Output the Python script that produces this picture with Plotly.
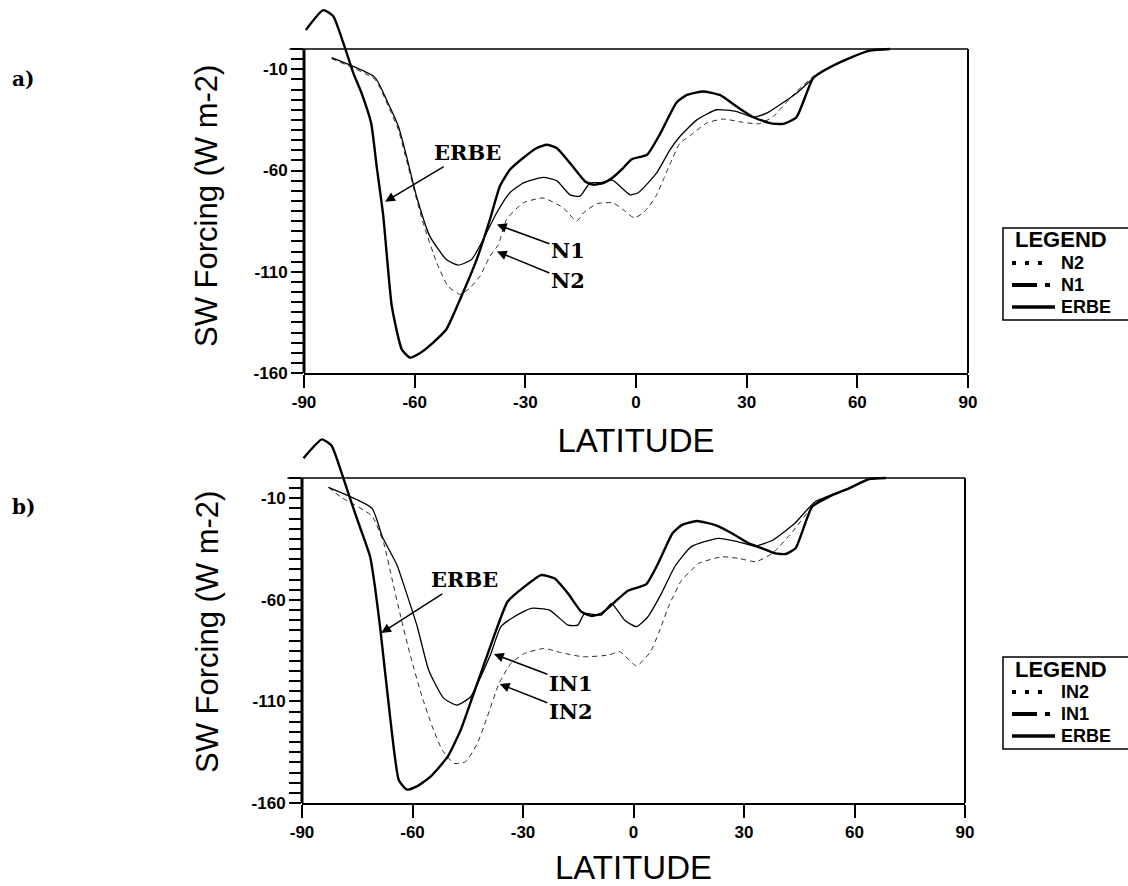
import plotly.graph_objects as go

# ---------------- data ----------------
# Panel a
lat_erbe_a = [-89.5, -84.8, -82.1, -79.3, -76.6, -74.4, -71.8, -70.3, -68.5, -66.2, -63.5, -61.3,
              -58.4, -55.0, -51.4, -47.3, -43.2, -39.6, -36.9, -34.2, -30.6, -26.9, -24.2, -21.5,
              -17.9, -13.8, -11.6, -8.9, -6.2, -3.5, -1.2, 3.0, 6.5, 11.0, 13.8, 18.2, 22.7, 27.3,
              31.8, 36.3, 39.9, 43.5, 48.0, 51.6, 57.1, 63.4, 68.8]
erbe_a = [9.4, 19.2, 16.3, 2.8, -12.0, -21.8, -36.6, -58.0, -82.6, -127.0, -148.3, -152.4,
          -150.0, -145.0, -138.4, -122.0, -104.0, -84.2, -67.8, -59.6, -53.8, -48.9, -47.3, -48.9,
          -56.3, -65.4, -67.0, -66.2, -63.3, -58.8, -54.5, -52.2, -42.0, -26.4, -22.7, -21.0, -22.7, -28.4,
          -33.7, -36.6, -37.0, -33.7, -14.4, -10.0, -5.1, -0.8, 0.0]

lat_n1 = [-82.5, -70.8, -67.2, -64.4, -62.2, -59.5, -55.9, -51.4, -48.2, -44.6, -41.4, -37.8,
          -34.2, -30.6, -25.1, -21.5, -17.9, -15.2, -12.5, -9.5, -6.4, -1.6, 0.6, 5.6, 9.2, 11.9,
          16.5, 21.8, 27.3, 31.8, 35.4, 43.5, 49.8, 57.1, 63.4, 68.8]
n1 = [-4.3, -14.0, -26.8, -38.3, -53.0, -72.7, -92.4, -104.0, -106.7, -104.0, -94.0, -81.0,
      -71.0, -66.2, -63.4, -65.0, -72.0, -72.7, -66.2, -66.0, -64.8, -72.0, -71.0, -61.2, -49.8, -43.2,
      -35.0, -30.0, -30.9, -33.7, -31.7, -21.8, -11.7, -5.1, -0.8, 0.0]

lat_n2 = [-82.5, -70.8, -67.2, -64.4, -62.2, -59.8, -57.7, -54.0, -51.0, -47.7, -45.0, -42.3,
          -39.6, -37.3, -35.1, -30.6, -25.1, -19.7, -16.1, -14.3, -10.6, -6.2, -3.5, -0.5, 2.2,
          5.3, 7.8, 9.4, 11.9, 14.6, 19.1, 23.6, 29.0, 33.5, 37.2, 42.6, 48.0, 51.6, 57.1, 63.4, 68.8]
n2 = [-4.8, -15.0, -28.0, -40.0, -55.0, -72.0, -85.9, -105.6, -117.0, -121.2, -117.9, -112.2,
      -102.3, -96.6, -84.2, -76.0, -73.6, -78.5, -85.0, -81.0, -76.4, -76.0, -79.3, -83.4, -80.5,
      -73.0, -62.9, -56.0, -46.5, -42.9, -36.6, -34.6, -36.2, -36.9, -33.3, -22.7, -13.6, -10.0, -5.1, -0.8, 0.0]

# Panel b
lat_erbe_b = [-89.6, -84.6, -82.0, -79.2, -76.5, -74.3, -71.5, -70.2, -68.7, -66.0, -63.7, -61.5,
              -58.7, -55.1, -50.5, -46.9, -43.7, -40.5, -37.3, -34.2, -29.6, -25.1, -21.5, -17.8,
              -14.2, -11.5, -8.7, -5.5, -1.4, 3.4, 6.7, 10.6, 13.1, 17.2, 22.2, 26.7, 31.3, 34.9,
              38.5, 41.3, 44.0, 48.5, 53.1, 58.5, 64.0, 68.5]
erbe_b = [9.7, 19.0, 16.0, 2.3, -12.5, -24.0, -38.8, -53.5, -74.9, -119.0, -148.8, -153.4,
          -151.7, -147.0, -137.3, -124.0, -107.7, -91.3, -75.0, -60.9, -53.5, -47.8, -49.4, -56.8,
          -65.8, -67.9, -66.7, -61.7, -55.4, -52.4, -42.0, -27.2, -23.2, -21.2, -23.2, -27.2, -32.2, -34.6,
          -37.1, -37.4, -34.6, -14.1, -9.2, -5.1, -0.5, 0.0]

lat_in1 = [-82.8, -71.0, -68.2, -64.2, -61.9, -58.7, -55.6, -51.5, -47.9, -44.2, -41.5, -38.7,
           -36.0, -32.4, -27.8, -22.8, -17.8, -15.1, -13.3, -8.7, -6.0, -2.4, 0.8, 3.9, 7.6, 11.2,
           15.7, 23.0, 28.4, 33.0, 37.9, 43.8, 49.3, 58.5, 64.0, 68.5]
in1 = [-4.6, -14.9, -28.9, -42.9, -55.2, -73.2, -94.6, -108.5, -111.8, -107.7, -97.9, -86.4,
       -73.2, -68.3, -64.2, -65.0, -72.4, -72.4, -66.7, -67.5, -61.7, -70.0, -73.2, -68.3, -56.8, -43.7,
       -33.8, -29.7, -31.4, -33.5, -30.5, -22.3, -11.7, -5.1, -0.5, 0.0]

lat_in2 = [-82.8, -79.6, -71.0, -67.8, -65.5, -63.2, -60.5, -57.4, -54.6, -51.9, -48.7, -45.6,
           -42.4, -39.7, -36.5, -33.3, -29.6, -24.2, -19.6, -13.7, -6.9, -3.7, 0.8, 4.6, 6.9, 9.7,
           13.1, 15.8, 17.7, 24.1, 28.6, 33.2, 37.7, 43.2, 48.6, 53.1, 58.5, 64.0, 68.5]
in2 = [-4.6, -9.2, -18.7, -32.2, -50.2, -68.3, -88.0, -107.7, -122.5, -134.0, -140.5, -139.7,
       -130.7, -117.6, -101.1, -91.3, -86.4, -83.9, -86.0, -88.0, -87.2, -85.5, -92.5, -85.6, -76.0, -62.5,
       -50.2, -45.3, -42.0, -38.8, -39.6, -41.2, -37.1, -26.4, -14.1, -9.2, -5.1, -0.5, 0.0]

x_tickvals = [-90, -60, -30, 0, 30, 60, 90]
x_ticktext = ["-90", "-60", "-30", "0", "30", "60", "90"]
y_labelled = {-10: "-10", -60: "-60", -110: "-110", -160: "-160"}
y_tickvals = list(range(0, -161, -5))                    # a tick every 5 W m-2
y_ticktext = [y_labelled.get(v, "") for v in y_tickvals]  # labels only every 50

legend_a = ["N2", "N1", "ERBE"]
legend_b = ["IN2", "IN1", "ERBE"]

# ---------------- layout geometry ----------------
W, H = 1128, 886
YMIN, YMAX = -160, 22            # extended above 0 so ERBE can overshoot the frame
YZ = (0 - YMIN) / (YMAX - YMIN)  # fraction of y domain where the frame top (0) sits


def px_x(p):
    return p / W


def px_y(p):
    return 1 - p / H


# panel pixel geometry: left, right, zero-line, bottom; vertical offset of panel b
PANELS = {
    "a": dict(left=304, right=968, zero=49, bottom=373, dy=0),
    "b": dict(left=302, right=965, zero=478, bottom=803, dy=429),
}


def ydomain(g):
    ppu = (g["bottom"] - g["zero"]) / (0 - YMIN)
    top = g["zero"] - YMAX * ppu
    return [px_y(g["bottom"]), px_y(top)]


fig = go.Figure()

STYLE = {
    "ERBE": dict(color="black", width=2.4),
    "M1": dict(color="black", width=1.3),
    "M2": dict(color="#2a2a2a", width=1.0, dash="5px,4px"),
}

panels_data = [
    ("a", "x", "y",
     [("N2", "M2", lat_n2, n2), ("N1", "M1", lat_n1, n1), ("ERBE", "ERBE", lat_erbe_a, erbe_a)],
     legend_a),
    ("b", "x2", "y2",
     [("IN2", "M2", lat_in2, in2), ("IN1", "M1", lat_in1, in1), ("ERBE", "ERBE", lat_erbe_b, erbe_b)],
     legend_b),
]

for pid, xa, ya, series, _ in panels_data:
    for name, sty, xs, ys in series:
        fig.add_trace(go.Scatter(x=xs, y=ys, mode="lines", name=name, xaxis=xa, yaxis=ya,
                                 line=dict(shape="spline", smoothing=0.5, **STYLE[sty]),
                                 showlegend=False, hoverinfo="x+y+name"))

axis_font = dict(family="Liberation Sans, Arial", size=17, color="black", weight="bold")


def akey(ref):
    return ref[0] + "axis" + ref[1:]


for pid, xa, ya, _, _ in panels_data:
    g = PANELS[pid]
    fig.update_layout(**{
        akey(xa): dict(domain=[px_x(g["left"]), px_x(g["right"])], range=[-90, 90], anchor=ya,
                       showgrid=False, zeroline=False, showline=True, linewidth=2, linecolor="black",
                       ticks="outside", ticklen=13, tickwidth=2, tickcolor="black", automargin=False,
                       tickmode="array", tickvals=x_tickvals, ticktext=x_ticktext, tickfont=axis_font,
                       title=dict(text="LATITUDE", standoff=17,
                                  font=dict(family="Liberation Sans, Arial", size=33, color="black"))),
        akey(ya): dict(domain=ydomain(g), range=[YMIN, YMAX], anchor=xa, automargin=False,
                       showgrid=False, zeroline=False, showline=False,
                       ticks="outside", ticklen=12, tickwidth=1.7, tickcolor="black",
                       tickmode="array", tickvals=y_tickvals, ticktext=y_ticktext, tickfont=axis_font),
    })

# frame lines (left axis bar, top, right) per panel
shapes = []
for pid, xa, ya, _, _ in panels_data:
    xr, yr = f"{xa} domain", f"{ya} domain"
    shapes += [
        dict(type="line", xref=xr, yref=yr, x0=0, x1=0, y0=0, y1=YZ, line=dict(color="black", width=3)),
        dict(type="line", xref=xr, yref=yr, x0=-0.022, x1=1, y0=YZ, y1=YZ, line=dict(color="black", width=1.5)),
        dict(type="line", xref=xr, yref=yr, x0=1, x1=1, y0=0, y1=YZ, line=dict(color="black", width=2)),
    ]

# legend boxes (drawn like the original "LEGEND" panels)
LEG_SAMPLES = [
    dict(x0=1012, x1=1044, line=dict(color="black", width=4, dash="4px,9px")),
    dict(x0=1012, x1=1051, line=dict(color="black", width=4, dash="25px,8px,5px,20px")),
    dict(x0=1012, x1=1055, line=dict(color="black", width=3.5)),
]
ROW_Y = [263, 285, 307]
ann = []
leg_font = dict(family="Liberation Sans, Arial", size=18, color="black", weight="bold")
for pid, xa, ya, _, names in panels_data:
    dy = PANELS[pid]["dy"]
    shapes.append(dict(type="rect", xref="paper", yref="paper",
                       x0=px_x(1003), x1=px_x(1150), y0=px_y(228 + dy), y1=px_y(320 + dy),
                       line=dict(color="black", width=1.5), fillcolor="white", layer="above"))
    ann.append(dict(text="LEGEND", xref="paper", yref="paper", x=px_x(1013), y=px_y(240 + dy),
                    xanchor="left", yanchor="middle", showarrow=False,
                    font=dict(family="Liberation Sans, Arial", size=22, color="black", weight="bold")))
    for name, samp, ry in zip(names, LEG_SAMPLES, ROW_Y):
        shapes.append(dict(type="line", xref="paper", yref="paper",
                           x0=px_x(samp["x0"]), x1=px_x(samp["x1"]),
                           y0=px_y(ry + dy), y1=px_y(ry + dy), line=samp["line"], layer="above"))
        ann.append(dict(text=name, xref="paper", yref="paper", x=px_x(1059), y=px_y(ry + dy),
                        xanchor="left", yanchor="middle", showarrow=False, font=leg_font))

fig.update_layout(shapes=shapes)

serif = dict(family="DejaVu Serif", size=21, color="black", weight="bold")
# panel labels
for lab, yc in (("a)", 79), ("b)", 507)):
    ann.append(dict(text=lab, xref="paper", yref="paper", x=px_x(23), y=px_y(yc),
                    xanchor="center", yanchor="middle", showarrow=False,
                    font=dict(family="DejaVu Serif", size=20, color="black", weight="bold")))
# y titles
for ycen in (206, 632):
    ann.append(dict(text="SW Forcing (W m-2)", xref="paper", yref="paper", x=px_x(207), y=px_y(ycen),
                    xanchor="center", yanchor="middle", textangle=-90, showarrow=False,
                    font=dict(family="Liberation Sans, Arial", size=31, color="black")))
# curve labels with arrows
labels = [
    ("x", "y", "ERBE", -68.0, -75.4, 82, -49),
    ("x", "y", "N1", -37.7, -86.7, 71, 26),
    ("x", "y", "N2", -37.7, -100.0, 71, 29),
    ("x2", "y2", "ERBE", -68.5, -76.3, 83, -53),
    ("x2", "y2", "IN1", -37.9, -86.7, 77, 29),
    ("x2", "y2", "IN2", -36.3, -101.4, 71, 28),
]
for xr, yr, t, x, y, ax, ay in labels:
    ann.append(dict(text=t, xref=xr, yref=yr, x=x, y=y, ax=ax, ay=ay, showarrow=True,
                    arrowhead=2, arrowsize=1.3, arrowwidth=1.5, arrowcolor="black",
                    font=serif))
fig.update_layout(annotations=ann)

fig.update_layout(
    width=W, height=H, margin=dict(l=0, r=0, t=0, b=0, autoexpand=False),
    paper_bgcolor="white", plot_bgcolor="white", showlegend=False,
    font=dict(family="Liberation Sans, Arial", color="black"),
)

fig.write_html("out.html")
